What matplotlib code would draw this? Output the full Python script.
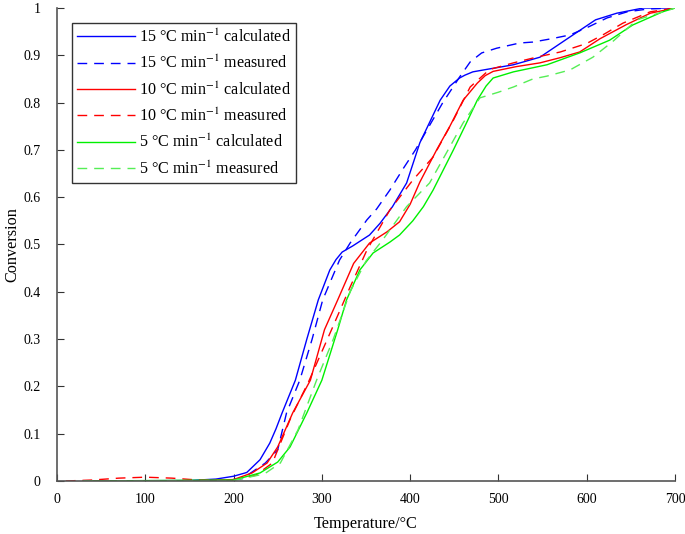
import matplotlib
matplotlib.use('Agg')
import matplotlib.pyplot as plt
from matplotlib.ticker import FuncFormatter

plt.rcParams['font.family'] = ['Liberation Serif', 'DejaVu Serif']
plt.rcParams['mathtext.fontset'] = 'stix'

# 15 C/min
t15_calc = [30, 150, 180, 200, 215, 230, 241, 248, 255, 270, 283, 296, 309, 316, 323, 335, 354,
            366, 380, 396, 411, 434, 445, 456, 462, 471, 483, 517, 547, 578, 610, 634, 664, 700]
c15_calc = [0, 0.001, 0.004, 0.01, 0.018, 0.045, 0.08, 0.11, 0.144, 0.213, 0.3, 0.383, 0.446,
            0.468, 0.484, 0.497, 0.52, 0.545, 0.58, 0.63, 0.715, 0.805, 0.835, 0.852, 0.858,
            0.865, 0.869, 0.88, 0.896, 0.935, 0.975, 0.989, 1.0, 1.0]
t15_meas = [30, 180, 210, 236, 250, 260, 275, 289, 301, 320, 332, 351, 362, 377, 392, 406,
            419, 437, 456, 468, 481, 498, 524, 539, 560, 581, 602, 623, 646, 670, 700]
c15_meas = [0, 0, 0.005, 0.038, 0.066, 0.144, 0.213, 0.3, 0.383, 0.467, 0.503, 0.552, 0.575,
            0.615, 0.66, 0.7, 0.742, 0.8, 0.854, 0.886, 0.905, 0.915, 0.926, 0.928, 0.935,
            0.943, 0.96, 0.979, 0.992, 0.998, 1.0]

# 10 C/min
t10_calc = [30, 150, 200, 221, 238, 250, 267, 287, 303, 318, 336, 354, 374, 388, 400, 411, 430,
            445, 460, 476, 485, 494, 520, 547, 570, 592, 615, 645, 672, 700]
c10_calc = [0, 0, 0.003, 0.017, 0.038, 0.072, 0.144, 0.213, 0.32, 0.383, 0.46, 0.503, 0.527,
            0.548, 0.585, 0.632, 0.7, 0.75, 0.805, 0.841, 0.857, 0.866, 0.876, 0.884, 0.895,
            0.907, 0.935, 0.965, 0.989, 1.0]
t10_meas = [10, 40, 70, 100, 130, 160, 200, 225, 244, 264, 285, 311, 332, 351, 377, 403,
            426, 449, 468, 490, 517, 543, 570, 600, 620, 641, 672, 700]
c10_meas = [0, 0.002, 0.006, 0.008, 0.006, 0.002, 0.002, 0.012, 0.038, 0.13, 0.21, 0.32,
            0.41, 0.488, 0.573, 0.636, 0.685, 0.763, 0.833, 0.87, 0.884, 0.896, 0.907, 0.925,
            0.945, 0.968, 0.992, 1.0]

# 5 C/min
t5_calc = [30, 200, 230, 250, 264, 283, 300, 318, 328, 343, 358, 377, 388, 403, 415, 426, 449,
           462, 476, 486, 494, 517, 555, 592, 626, 652, 686, 700]
c5_calc = [0, 0.002, 0.017, 0.04, 0.072, 0.144, 0.213, 0.32, 0.383, 0.446, 0.482, 0.505,
           0.52, 0.55, 0.58, 0.615, 0.7, 0.75, 0.805, 0.835, 0.852, 0.865, 0.88, 0.905, 0.932,
           0.964, 0.992, 1.0]
t5_meas = [30, 200, 235, 253, 273, 294, 313, 332, 350, 369, 396, 422, 440, 460, 470, 479,
           500, 517, 539, 555, 581, 607, 630, 657, 683, 700]
c5_meas = [0, 0.001, 0.015, 0.038, 0.108, 0.213, 0.3, 0.4, 0.465, 0.51, 0.58, 0.63, 0.69,
           0.757, 0.785, 0.81, 0.822, 0.833, 0.85, 0.856, 0.869, 0.896, 0.93, 0.975, 0.99, 1.0]

fig = plt.figure(figsize=(6.85, 5.34), dpi=100)
ax = fig.add_axes([0.0832, 0.0993, 0.9022, 0.8857])

dash = (7, 5)
ax.plot(t15_calc, c15_calc, color='#0000ff', lw=1, label=r'15 °C min$^{-1}$ calculated')
ax.plot(t15_meas, c15_meas, color='#0000ff', lw=1, dashes=dash, label=r'15 °C min$^{-1}$ measured')
ax.plot(t10_calc, c10_calc, color='#ff0000', lw=1, label=r'10 °C min$^{-1}$ calculated')
ax.plot(t10_meas, c10_meas, color='#ff0000', lw=1, dashes=dash, label=r'10 °C min$^{-1}$ measured')
ax.plot(t5_calc, c5_calc, color='#00f000', lw=1, label=r'5 °C min$^{-1}$ calculated')
ax.plot(t5_meas, c5_meas, color='#55ee55', lw=1, dashes=dash, label=r'5 °C min$^{-1}$ measured')

ax.set_xlim(0, 700)
ax.set_ylim(0, 1)
ax.set_xticks(range(0, 701, 100))
ax.set_yticks([i / 10 for i in range(11)])
ax.yaxis.set_major_formatter(FuncFormatter(lambda v, p: '%g' % v))

for s in ['top', 'right']:
    ax.spines[s].set_visible(False)
for s in ['left', 'bottom']:
    ax.spines[s].set_color('#555555')
    ax.spines[s].set_linewidth(1.2)
ax.tick_params(direction='in', length=5, color='#333333', labelsize=10)
ax.tick_params(axis='y', pad=12)
ax.tick_params(axis='x', pad=9)

ax.set_xlabel('Temperature/°C', fontsize=11.7)
ax.xaxis.set_label_coords(0.5, -0.074)
ax.set_ylabel('Conversion', fontsize=11.7)
ax.yaxis.set_label_coords(-0.06, 0.5)

leg = ax.legend(loc='upper left', bbox_to_anchor=(0.024, 0.968), borderaxespad=0,
                fontsize=11.6, handlelength=3.6, labelspacing=0.56, fancybox=False,
                framealpha=1, handletextpad=0.2, borderpad=0.35)
leg.get_frame().set_edgecolor('#333333')
leg.get_frame().set_linewidth(1)

fig.savefig('out.png', dpi=100)
